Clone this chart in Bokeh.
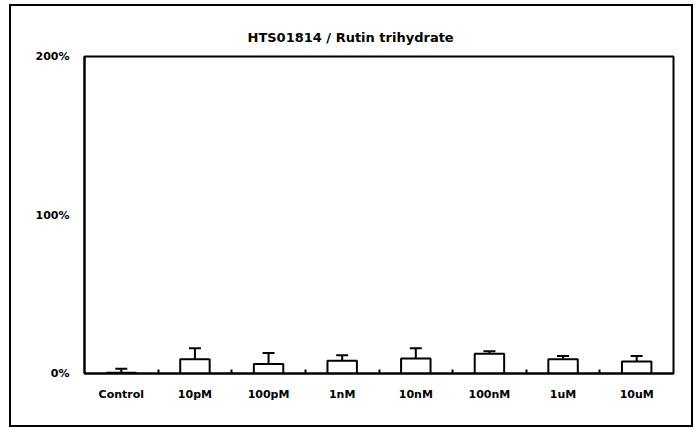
from bokeh.plotting import figure
from bokeh.models import ColumnDataSource, Range1d, FixedTicker, Whisker, TeeHead
from bokeh.embed import file_html
from bokeh.resources import INLINE

categories = ["Control", "10pM", "100pM", "1nM", "10nM", "100nM", "1uM", "10uM"]
means = [0.5, 9, 6, 8, 9.5, 12.5, 9, 7.5]
upper = [3, 16, 13, 11.5, 16, 14, 11, 11]
y_ticks = [0, 100, 200]
y_labels = ["0%", "100%", "200%"]
title_text = "HTS01814 / Rutin trihydrate"

xs = [i + 0.5 for i in range(len(categories))]
src = ColumnDataSource(dict(x=xs, top=means, up=upper))

p = figure(width=684, height=423, output_backend="svg", toolbar_location=None,
           x_range=Range1d(0, len(categories)), y_range=Range1d(0, 200),
           min_border_left=73, min_border_right=22, min_border_top=50, min_border_bottom=56)
p.styles = {"border": "2px solid black", "box-sizing": "border-box",
            "margin-left": "9px", "margin-top": "4px"}
p.xgrid.visible = False
p.ygrid.visible = False
p.outline_line_color = "black"
p.outline_line_width = 2
p.background_fill_color = "white"

p.vbar(x="x", top="top", bottom=0, width=0.4, source=src,
       fill_color="white", line_color="black", line_width=2)
w = Whisker(base="x", lower="top", upper="up", source=src, dimension="height",
            line_color="black", line_width=2,
            upper_head=TeeHead(size=12, line_color="black", line_width=2), lower_head=None)
p.add_layout(w)

p.xaxis.ticker = FixedTicker(ticks=xs, minor_ticks=list(range(1, len(categories))))
p.xaxis.major_label_overrides = {x: c for x, c in zip(xs, categories)}
p.xaxis.major_tick_out = 0
p.xaxis.major_tick_in = 0
p.xaxis.minor_tick_in = 4
p.xaxis.minor_tick_out = 0
p.xaxis.minor_tick_line_width = 2
p.xaxis.minor_tick_line_color = "black"
p.xaxis.major_label_standoff = 14

p.yaxis.ticker = FixedTicker(ticks=y_ticks, minor_ticks=[])
p.yaxis.major_label_overrides = {t: l for t, l in zip(y_ticks, y_labels)}
p.yaxis.major_tick_out = 0
p.yaxis.major_tick_in = 0
p.yaxis.major_label_standoff = 15

for ax in (p.xaxis, p.yaxis):
    ax.axis_line_width = 2
    ax.axis_line_color = "black"
    ax.major_label_text_font = "DejaVu Sans"
    ax.major_label_text_font_style = "bold"
    ax.major_label_text_font_size = "11px"
    ax.major_label_text_color = "black"

p.title.text = title_text
p.title.align = "left"
p.title.offset = 163
p.title.text_font = "DejaVu Sans"
p.title.text_font_style = "bold"
p.title.text_font_size = "13px"
p.title.text_color = "black"
p.title.standoff = 23

open("out.html", "w").write(file_html(p, INLINE))
